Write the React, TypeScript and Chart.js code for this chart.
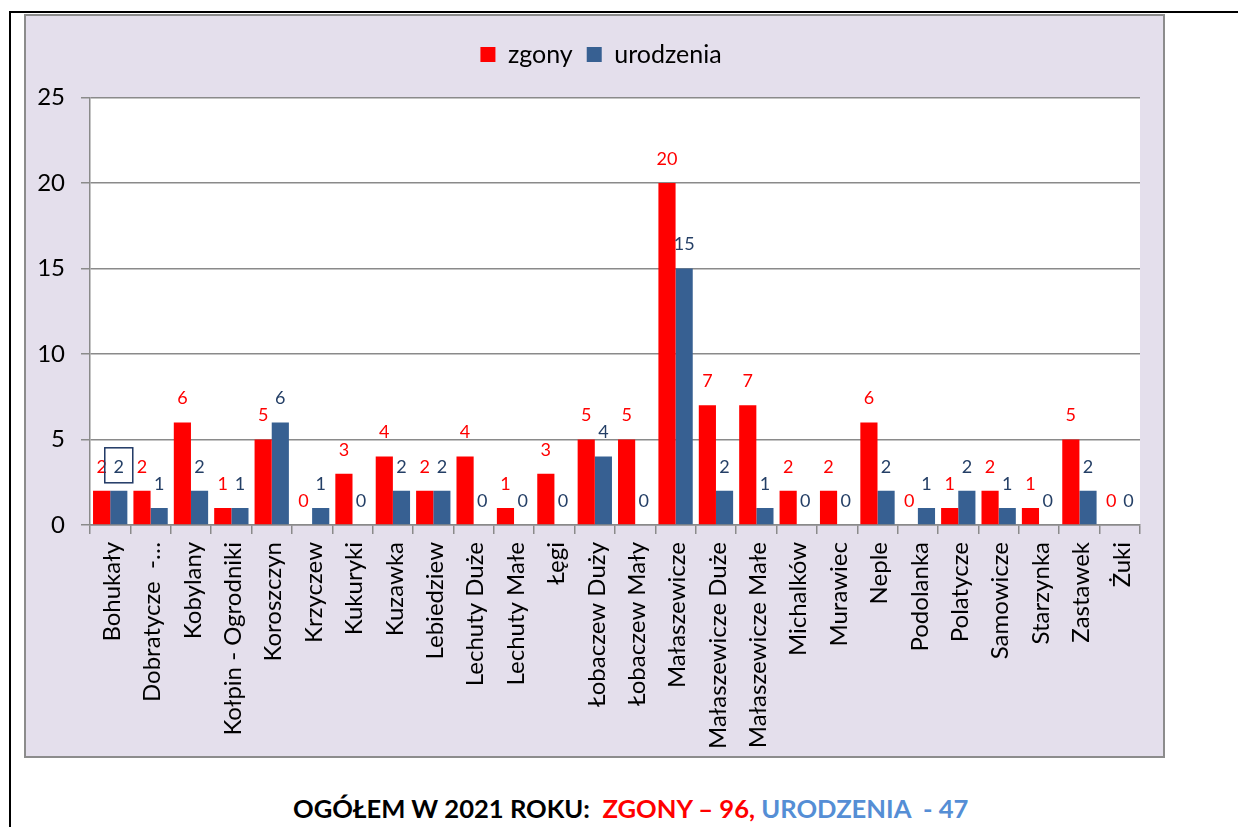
import React, { useEffect, useRef } from "react";
import { Chart, registerables } from "chart.js";

Chart.register(...registerables);

const categories = [
  "Bohukały",
  "Dobratycze  -…",
  "Kobylany",
  "Kołpin - Ogrodniki",
  "Koroszczyn",
  "Krzyczew",
  "Kukuryki",
  "Kuzawka",
  "Lebiedziew",
  "Lechuty Duże",
  "Lechuty Małe",
  "Łęgi",
  "Łobaczew Duży",
  "Łobaczew Mały",
  "Małaszewicze",
  "Małaszewicze Duże",
  "Małaszewicze Małe",
  "Michalków",
  "Murawiec",
  "Neple",
  "Podolanka",
  "Polatycze",
  "Samowicze",
  "Starzynka",
  "Zastawek",
  "Żuki",
];

const zgony = [2, 2, 6, 1, 5, 0, 3, 4, 2, 4, 1, 3, 5, 5, 20, 7, 7, 2, 2, 6, 0, 1, 2, 1, 5, 0];
const urodzenia = [2, 1, 2, 1, 6, 1, 0, 2, 2, 0, 0, 0, 4, 0, 15, 2, 1, 0, 0, 2, 1, 2, 1, 0, 2, 0];

const seriesNames = ["zgony", "urodzenia"];
const yMin = 0;
const yMax = 25;
const yStep = 5;

const summaryLead = "OGÓŁEM W 2021 ROKU:  ";
const summaryZgony = "ZGONY – 96, ";
const summaryUrodzenia = "URODZENIA  - 47";

const FONT = "Lato, 'Open Sans', sans-serif";
const RED = "#FF0000";
const BLUE = "#376092";
const BLUE_LABEL = "#243F66";
const GRID = "#8A8A8A";

export default function App() {
  const canvasRef = useRef<HTMLCanvasElement>(null);

  useEffect(() => {
    const canvas = canvasRef.current;
    if (!canvas) return;

    const plotBg = {
      id: "plotBg",
      beforeDraw(chart: any) {
        const { ctx, chartArea: a } = chart;
        ctx.save();
        ctx.fillStyle = "#FFFFFF";
        ctx.fillRect(a.left, a.top, a.right - a.left, a.bottom - a.top);
        ctx.restore();
      },
    };

    const legendSpace = {
      id: "legendSpace",
      beforeInit(chart: any) {
        const legend = chart.legend;
        if (!legend) return;
        const fit = legend.fit;
        legend.fit = function () {
          fit.call(this);
          this.height = 69.5;
        };
      },
      afterLayout(chart: any) {
        const legend = chart.legend;
        if (!legend) return;
        legend.left += 18;
        legend.right += 18;
      },
    };

    const labelColors = [RED, BLUE_LABEL];
    const valueLabels = {
      id: "valueLabels",
      afterDatasetsDraw(chart: any) {
        const ctx = chart.ctx;
        ctx.save();
        ctx.font = `18px ${FONT}`;
        ctx.textAlign = "center";
        ctx.textBaseline = "middle";
        chart.data.datasets.forEach((ds: any, di: number) => {
          const meta = chart.getDatasetMeta(di);
          meta.data.forEach((bar: any, i: number) => {
            const v = ds.data[i];
            const x = bar.x;
            const y = bar.y - 24;
            ctx.fillStyle = labelColors[di];
            ctx.fillText(String(v), x, y);
            if (di === 1 && i === 0) {
              ctx.strokeStyle = "#1F3864";
              ctx.lineWidth = 1.5;
              ctx.strokeRect(x - 14, y - 19, 28, 35);
            }
          });
        });
        ctx.restore();
      },
    };

    const chart = new Chart(canvas, {
      type: "bar",
      data: {
        labels: categories,
        datasets: [
          {
            label: seriesNames[0],
            data: zgony,
            backgroundColor: RED,
            categoryPercentage: 0.85,
            barPercentage: 1,
          },
          {
            label: seriesNames[1],
            data: urodzenia,
            backgroundColor: BLUE,
            categoryPercentage: 0.85,
            barPercentage: 1,
          },
        ],
      },
      options: {
        animation: false,
        responsive: false,
        devicePixelRatio: 1,
        layout: { padding: { top: 12, right: 23, bottom: 0, left: 0 } },
        plugins: {
          legend: {
            display: true,
            position: "top",
            align: "center",
            labels: {
              font: { family: FONT, size: 25 },
              color: "#000000",
              boxWidth: 15,
              boxHeight: 15,
              padding: 14,
            },
          },
          tooltip: { enabled: false },
          title: { display: false },
        },
        scales: {
          x: {
            type: "category",
            offset: true,
            grid: {
              offset: true,
              drawOnChartArea: false,
              drawTicks: true,
              tickLength: 9,
              color: GRID,
              lineWidth: 1.5,
            },
            border: { display: true, color: GRID, width: 1.5 },
            ticks: {
              autoSkip: false,
              maxRotation: 90,
              minRotation: 90,
              padding: 8,
              labelOffset: 2,
              font: { family: FONT, size: 24 },
              color: "#000000",
            },
            afterFit(scale: any) {
              scale.height = 231;
            },
          },
          y: {
            min: yMin,
            max: yMax,
            ticks: {
              stepSize: yStep,
              padding: 16,
              font: { family: FONT, size: 24 },
              color: "#000000",
            },
            grid: {
              color: GRID,
              lineWidth: 1.5,
              drawTicks: true,
              tickLength: 9,
            },
            border: { display: true, color: GRID, width: 1.5 },
            afterFit(scale: any) {
              scale.width = 64;
            },
          },
        },
      },
      plugins: [plotBg, legendSpace, valueLabels],
    } as any);

    return () => chart.destroy();
  }, []);

  return (
    <div
      style={{
        position: "absolute",
        left: 0,
        top: 0,
        width: 1238,
        height: 827,
        background: "#FFFFFF",
        overflow: "hidden",
      }}
    >
      <div style={{ position: "absolute", left: 9, top: 11, width: 1229, height: 2, background: "#000" }} />
      <div style={{ position: "absolute", left: 9, top: 11, width: 2, height: 816, background: "#000" }} />
      <div
        style={{
          position: "absolute",
          left: 24,
          top: 14,
          width: 1141,
          height: 744,
          boxSizing: "border-box",
          background: "#E4DFEC",
          border: "2px solid #8C8C8C",
        }}
      />
      <canvas
        ref={canvasRef}
        width={1137}
        height={740}
        style={{ position: "absolute", left: 26, top: 16, width: 1137, height: 740 }}
      />
      <div
        style={{
          position: "absolute",
          left: 293,
          top: 793,
          fontFamily: FONT,
          fontWeight: 700,
          fontSize: 25.6,
          lineHeight: "30px",
          whiteSpace: "pre",
          color: "#000000",
        }}
      >
        {summaryLead}
        <span style={{ color: RED }}>{summaryZgony}</span>
        <span style={{ color: "#558ED5" }}>{summaryUrodzenia}</span>
      </div>
    </div>
  );
}
